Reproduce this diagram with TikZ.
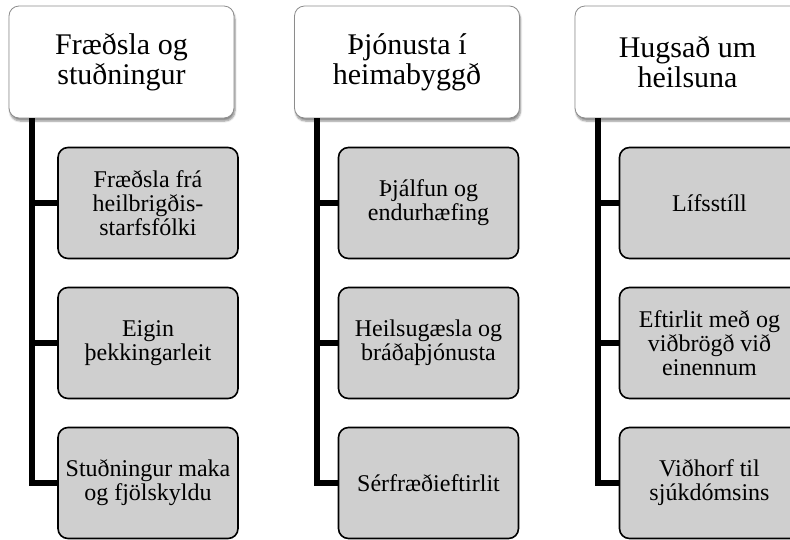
\documentclass[tikz,border=0pt]{standalone}
\usepackage{fontspec}
\setmainfont{Liberation Serif}
\usetikzlibrary{calc,shadows.blur}
\tikzset{
  topbox/.style={draw=black!45, line width=0.8pt, fill=white, rounded corners=10pt,
    minimum width=225pt, minimum height=112pt, align=center, inner sep=0pt,
    font=\fontsize{30}{30}\selectfont,
    blur shadow={shadow xshift=1pt, shadow yshift=-3pt, shadow blur steps=6, shadow opacity=45}},
  childbox/.style={draw=black, line width=1.6pt, fill=black!19, rounded corners=10pt,
    minimum width=180pt, minimum height=111pt, align=center, inner sep=0pt,
    font=\fontsize{24}{24}\selectfont},
  conn/.style={draw=black, line width=5.5pt, line join=miter}
}
\begin{document}
\begin{tikzpicture}[x=1pt,y=-1pt]
\useasboundingbox (0,0) rectangle (790,539);
% column 1
\node[topbox] (t1) at (121.5,62) {Fræðsla og\\stuðningur};
\node[childbox] (c11) at (148,203) {Fræðsla frá\\heilbrigðis-\\starfsfólki};
\node[childbox] (c12) at (148,343) {Eigin\\þekkingarleit};
\node[childbox] (c13) at (148,483) {Stuðningur maka\\og fjölskyldu};
\coordinate (b1) at (32,118);
\draw[conn] (b1) |- (c13.west);
\draw[conn] (b1 |- c11.west) -- (c11.west);
\draw[conn] (b1 |- c12.west) -- (c12.west);
% column 2
\node[topbox] (t2) at (407,62) {Þjónusta í\\heimabyggð};
\node[childbox] (c21) at (428.5,203) {Þjálfun og\\endurhæfing};
\node[childbox] (c22) at (428.5,343) {Heilsugæsla og\\bráðaþjónusta};
\node[childbox] (c23) at (428.5,483) {Sérfræðieftirlit};
\coordinate (b2) at (317,118);
\draw[conn] (b2) |- (c23.west);
\draw[conn] (b2 |- c21.west) -- (c21.west);
\draw[conn] (b2 |- c22.west) -- (c22.west);
% column 3
\node[topbox] (t3) at (687.5,62) {Hugsað um\\heilsuna};
\node[childbox] (c31) at (709.5,203) {Lífsstíll};
\node[childbox] (c32) at (709.5,343) {Eftirlit með og\\viðbrögð við\\einennum};
\node[childbox] (c33) at (709.5,483) {Viðhorf til\\sjúkdómsins};
\coordinate (b3) at (598,118);
\draw[conn] (b3) |- (c33.west);
\draw[conn] (b3 |- c31.west) -- (c31.west);
\draw[conn] (b3 |- c32.west) -- (c32.west);
\end{tikzpicture}
\end{document}
